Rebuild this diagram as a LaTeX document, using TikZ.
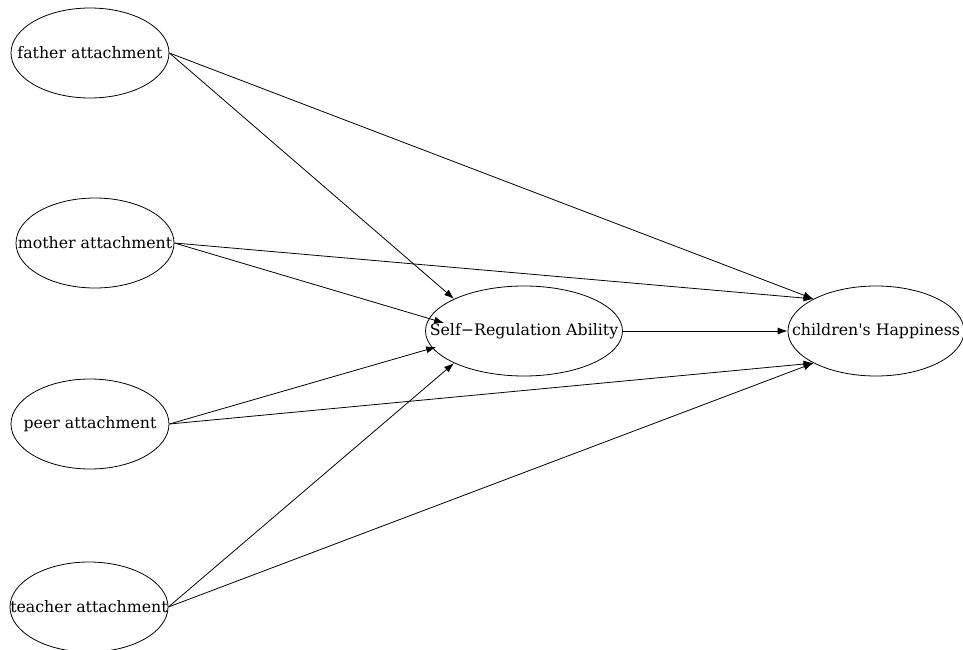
\documentclass[tikz,border=0pt]{standalone}
\usepackage{fontspec}
\setmainfont{DejaVu Serif}
\usetikzlibrary{arrows.meta}
\usetikzlibrary{shapes.geometric}
\usetikzlibrary{calc}
\tikzset{>={Latex[length=10pt,width=7pt]}}
\tikzset{
	var/.style = {draw, ellipse, inner sep = 0pt, line width = 0.8pt,
		minimum width = 158pt, minimum height = 90pt, font = \fontsize{15.8}{18}\selectfont},
	path/.style = {->, line width = 0.8pt}
}

\begin{document}
\begin{tikzpicture}[x = 1pt, y = -1pt]
\useasboundingbox (0,0) rectangle (963,650);

\node[var] (father) at (90, 53) {\makebox[0pt]{father attachment}};
\node[var] (mother) at (95, 243) {\makebox[0pt]{mother attachment}};
\node[var] (peer) at (90, 424) {\makebox[0pt]{peer attachment}};
\node[var] (teacher) at (89, 607) {\makebox[0pt]{teacher attachment}};

\node[var, minimum width = 197pt] (sr) at (524, 331) {\makebox[0pt]{Self−Regulation Ability}};
\node[var, minimum width = 176pt] (ch) at (876, 331) {\makebox[0pt]{children\textquotesingle s Happiness}};

\coordinate (srm) at ($(sr.west) + (19, -8)$);
\coordinate (srp) at ($(sr.west) + (11, 16)$);

\foreach \a/\b in {father/sr.north west, mother/srm, peer/srp, teacher/sr.south west,
	father/ch.north west, mother/ch.north west, peer/ch.south west, teacher/ch.south west}
	\draw[path] (\a.east) -- (\b);

\draw[path] (sr.east) -- (ch.west);

\end{tikzpicture}
\end{document}
